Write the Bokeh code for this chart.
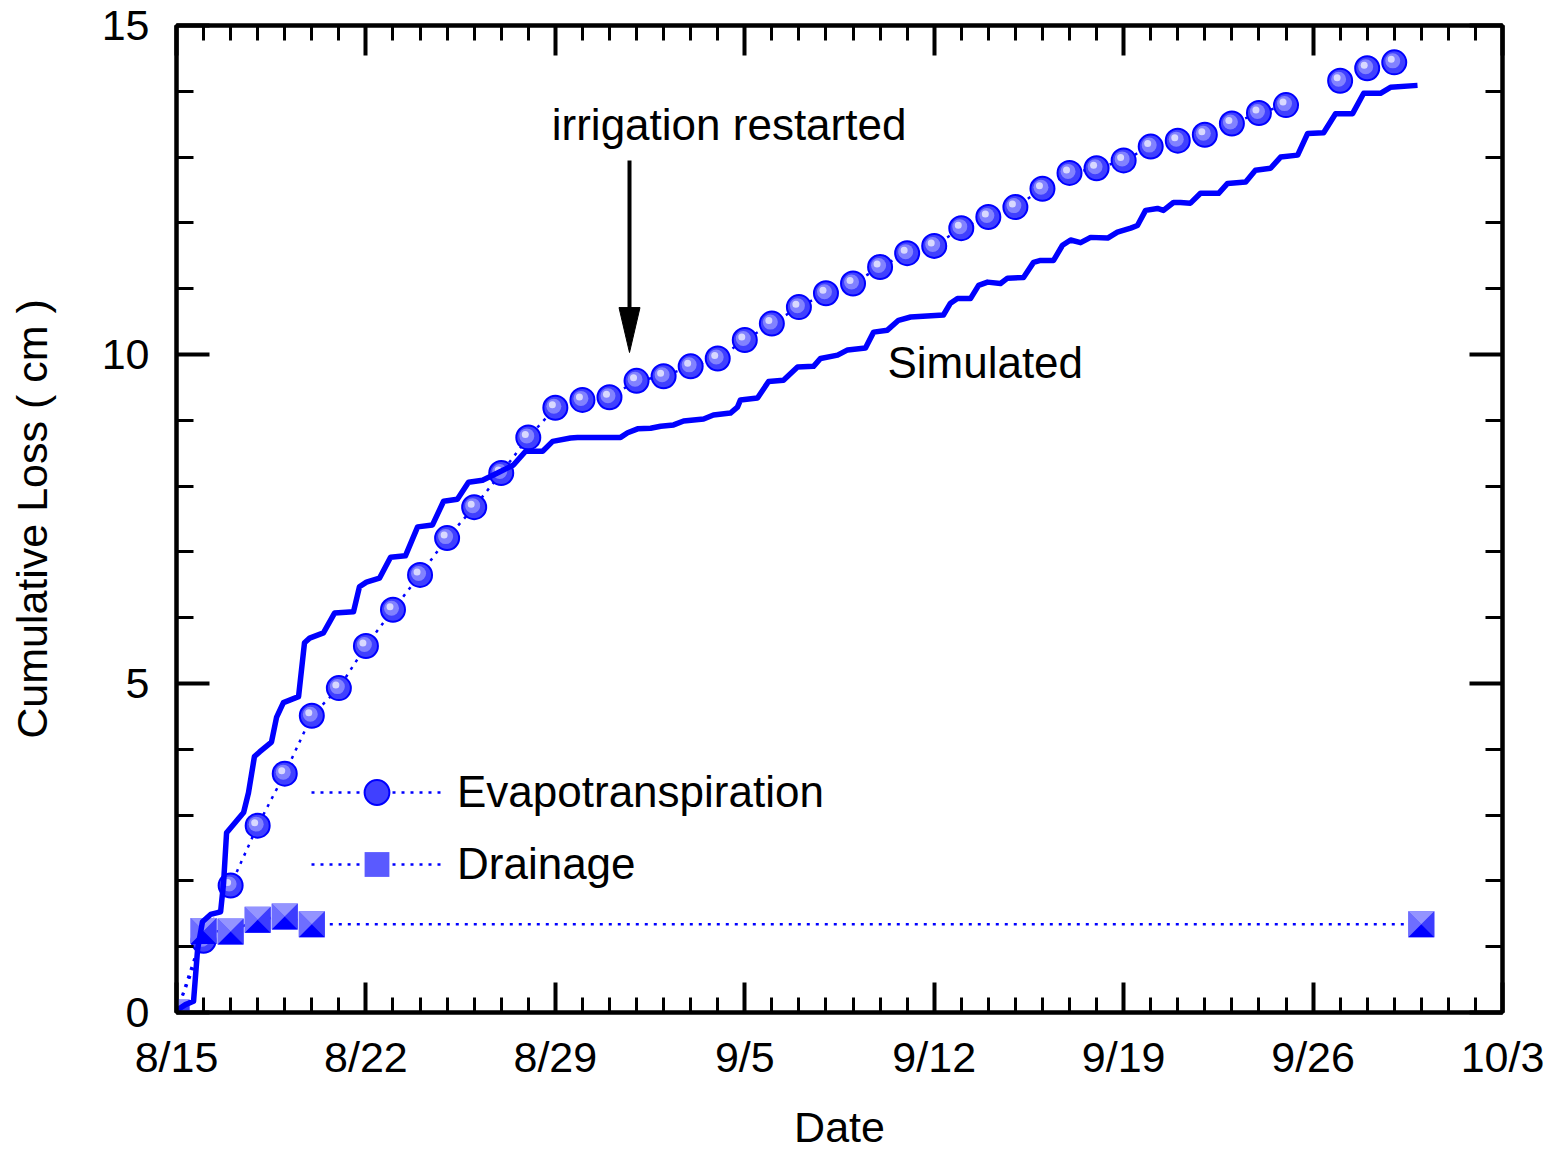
import math
from bokeh.plotting import figure
from bokeh.models import (Range1d, FixedTicker, LinearAxis, Legend, LegendItem)
from bokeh.embed import file_html
from bokeh.resources import INLINE
from bokeh.core.properties import value

# ---------------- data ----------------
tick_days = [0, 7, 14, 21, 28, 35, 42, 49]
tick_labels = ["8/15", "8/22", "8/29", "9/5", "9/12", "9/19", "9/26", "10/3"]

# days after 8/15
et_day = list(range(0, 42)) + [43, 44, 45]
et_val = [0, 1.09, 1.93, 2.84, 3.63, 4.51, 4.93, 5.57, 6.12, 6.65, 7.21, 7.68,
          8.20, 8.74, 9.19, 9.31, 9.35, 9.60, 9.67, 9.82, 9.94, 10.22, 10.47,
          10.72, 10.93, 11.08, 11.33, 11.54, 11.65, 11.92, 12.09, 12.24, 12.52,
          12.76, 12.83, 12.95, 13.16, 13.25, 13.34, 13.51, 13.67, 13.79,
          14.16, 14.35, 14.44]

dr_day = [0, 1, 2, 3, 4, 5, 46]
dr_val = [0, 1.24, 1.23, 1.41, 1.46, 1.34, 1.34]

sim_day = [0.00, 0.07, 0.33, 0.63, 0.78, 0.96, 1.26, 1.63, 1.74, 1.85, 2.03, 2.48,
           2.66, 2.88, 3.07, 3.51, 3.70, 3.95, 4.51, 4.73, 4.92, 5.43, 5.84,
           6.54, 6.76, 7.02, 7.50, 7.91, 8.46, 8.91, 9.46, 9.87, 10.38, 10.79,
           11.31, 11.86, 12.45, 12.90, 13.53, 13.90, 14.56, 14.82, 16.41, 16.67,
           17.04, 17.52, 17.89, 18.37, 18.74, 19.48, 19.84, 20.47, 20.73, 20.84,
           21.47, 21.88, 22.43, 22.95, 23.54, 23.80, 24.43, 24.80, 25.46, 25.76,
           26.27, 26.68, 27.13, 28.34, 28.60, 28.86, 29.34, 29.64, 29.97, 30.45,
           30.71, 31.30, 31.67, 31.93, 32.41, 32.74, 33.04, 33.41, 33.78, 34.41,
           34.77, 35.26, 35.51, 35.81, 36.25, 36.47, 36.84, 37.10, 37.47, 37.84,
           38.51, 38.84, 39.51, 39.87, 40.43, 40.80, 41.43, 41.80, 42.39, 42.83,
           43.46, 43.87, 44.49, 44.86, 45.86]
sim_val = [0.00, 0.05, 0.12, 0.17, 0.96, 1.38, 1.49, 1.53, 1.97, 2.73, 2.82, 3.04,
           3.34, 3.89, 3.96, 4.11, 4.49, 4.71, 4.80, 5.62, 5.69, 5.77, 6.07,
           6.09, 6.47, 6.54, 6.60, 6.92, 6.94, 7.38, 7.41, 7.77, 7.80, 8.06,
           8.09, 8.20, 8.32, 8.53, 8.53, 8.68, 8.73, 8.74, 8.74, 8.81,
           8.87, 8.88, 8.91, 8.93, 8.99, 9.02, 9.08, 9.11, 9.20, 9.31,
           9.34, 9.59, 9.61, 9.81, 9.82, 9.94, 9.99, 10.07, 10.10, 10.34,
           10.37, 10.52, 10.57, 10.60, 10.78, 10.85, 10.85, 11.05, 11.10, 11.08,
           11.16, 11.17, 11.40, 11.43, 11.43, 11.66, 11.74, 11.70, 11.78, 11.77,
           11.86, 11.92, 11.96, 12.19, 12.22, 12.19, 12.31, 12.31, 12.30, 12.45,
           12.45, 12.60, 12.62, 12.80, 12.83, 13.00, 13.03, 13.36, 13.37, 13.66,
           13.66, 13.97, 13.97, 14.06, 14.09]

# ---------------- figure ----------------
FONT = "Liberation Sans"
W, H = 1549, 1153
ML, MR, MT, MB = 176, 47, 25, 140
X0, X1, Y0, Y1 = 0, 49, 0, 15
px_x = (X1 - X0) / (W - ML - MR)   # data units per screen px
px_y = (Y1 - Y0) / (H - MT - MB)

p = figure(width=W, height=H, output_backend="svg", toolbar_location=None,
           x_range=Range1d(X0, X1), y_range=Range1d(Y0, Y1),
           min_border_left=ML, min_border_right=MR, min_border_top=MT,
           min_border_bottom=MB, x_axis_type=None, y_axis_type=None)
p.outline_line_color = "black"
p.outline_line_width = 4
p.background_fill_color = "white"
p.border_fill_color = "white"

xt = FixedTicker(ticks=tick_days, minor_ticks=list(range(0, 50)))
yt = FixedTicker(ticks=[0, 5, 10, 15], minor_ticks=list(range(0, 16)))


def style_axis(ax, horiz, labels):
    ax.axis_line_width = 4
    ax.major_tick_out = 0
    ax.minor_tick_out = 0
    ax.major_tick_in = 30 if horiz else 33
    ax.minor_tick_in = 15 if horiz else 17
    ax.major_tick_line_width = 4
    ax.minor_tick_line_width = 3
    ax.major_label_text_font = FONT
    ax.major_label_text_font_size = "43px"
    ax.major_label_text_color = "black" if labels else None
    ax.axis_label_text_font = FONT
    ax.axis_label_text_font_size = "43px"
    ax.axis_label_text_font_style = "normal"
    ax.axis_label_text_color = "black"


xb = LinearAxis(ticker=xt, axis_label="Date")
xb.major_label_overrides = {d: l for d, l in zip(tick_days, tick_labels)}
style_axis(xb, True, True)
xb.major_label_standoff = 20
xb.axis_label_standoff = 19
p.add_layout(xb, "below")

xa = LinearAxis(ticker=xt)
style_axis(xa, True, False)
xa.major_label_standoff = 0
p.add_layout(xa, "above")

yl = LinearAxis(ticker=yt, axis_label="Cumulative Loss ( cm )")
style_axis(yl, False, True)
yl.major_label_standoff = 27
yl.axis_label_standoff = 43
p.add_layout(yl, "left")

yr = LinearAxis(ticker=yt)
style_axis(yr, False, False)
yr.major_label_standoff = 0
p.add_layout(yr, "right")

BLUE = "#0000ff"

# ET dotted line (break where days are missing)
lx, ly = [], []
for i, (d, v) in enumerate(zip(et_day, et_val)):
    if i > 0 and d - et_day[i - 1] > 1:
        lx.append(float("nan"))
        ly.append(float("nan"))
    lx.append(d)
    ly.append(v)
et_line = p.line(lx, ly, line_color=BLUE, line_width=2.5, line_dash="3 6")

# ET spheres
et_base = p.scatter(et_day, et_val, marker="circle", size=24, fill_color="#4040ff",
                    line_color=BLUE, line_width=2)
p.scatter([d - 1.5 * px_x for d in et_day], [v + 1.5 * px_y for v in et_val],
          marker="circle", size=15, fill_color="#8282ff", line_color=None)
p.scatter([d - 3 * px_x for d in et_day], [v + 3 * px_y for v in et_val],
          marker="circle", size=7, fill_color="#d8d8ff", line_color=None)

# Drainage dotted line and shaded squares
dr_line = p.line(dr_day, dr_val, line_color=BLUE, line_width=2.5, line_dash="3 6")
dr_base = p.scatter(dr_day, dr_val, marker="square", size=26, fill_color="#5a5aff",
                    line_color=None)
hx, hy = 13 * px_x, 13 * px_y
top_xs, top_ys = [], []
left_xs, left_ys, right_xs, right_ys, bot_xs, bot_ys = [], [], [], [], [], []
for d, v in zip(dr_day, dr_val):
    top_xs.append([d - hx, d + hx, d]); top_ys.append([v + hy, v + hy, v])
    left_xs.append([d - hx, d - hx, d]); left_ys.append([v - hy, v + hy, v])
    right_xs.append([d + hx, d + hx, d]); right_ys.append([v - hy, v + hy, v])
    bot_xs.append([d - hx, d + hx, d]); bot_ys.append([v - hy, v - hy, v])
p.patches(top_xs, top_ys, fill_color="#9494ff", line_color=None)
p.patches(left_xs, left_ys, fill_color="#6e6eff", line_color=None)
p.patches(right_xs, right_ys, fill_color="#3c3cff", line_color=None)
p.patches(bot_xs, bot_ys, fill_color="#0000ff", line_color=None)

# Simulated
p.line(sim_day, sim_val, line_color=BLUE, line_width=5.5, line_join="round")

# Legend
legend = Legend(items=[LegendItem(label="Evapotranspiration", renderers=[et_line, et_base]),
                       LegendItem(label="Drainage", renderers=[dr_line, dr_base])],
                location=(135, 117), glyph_width=131, glyph_height=62,
                label_height=62, spacing=10, padding=0, margin=0,
                label_standoff=15, background_fill_alpha=0, border_line_alpha=0,
                label_text_font=FONT, label_text_font_size="44px",
                label_text_color="black")
p.add_layout(legend)

# Annotations
ARROW_X = 16.74
p.segment(x0=[ARROW_X], y0=[12.95], x1=[ARROW_X], y1=[10.6],
          line_color="black", line_width=4)
p.patch([ARROW_X - 10.5 * px_x, ARROW_X + 10.5 * px_x, ARROW_X],
        [10.03 + 45 * px_y, 10.03 + 45 * px_y, 10.03],
        fill_color="black", line_color="black", line_width=1)
p.text(x=[20.42], y=[13.49], text=["irrigation restarted"], text_align="center",
       text_baseline="alphabetic", text_font=value(FONT), text_font_size="44px",
       text_color="black")
p.text(x=[26.27], y=[9.88], text=["Simulated"], text_align="left",
       text_baseline="alphabetic", text_font=value(FONT), text_font_size="44px",
       text_color="black")

open("out.html", "w").write(file_html(p, INLINE))
